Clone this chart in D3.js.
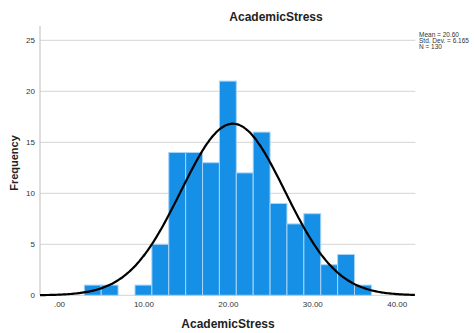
<!DOCTYPE html>
<html><head><meta charset="utf-8">
<script src="https://cdn.jsdelivr.net/npm/d3@7"></script>
<style>body{margin:0;background:#fff;}svg{display:block;font-family:Arial,"Liberation Sans",sans-serif;}</style>
</head><body>
<svg id="c" width="474" height="333"></svg>
<script>
const binStarts = [3,5,7,9,11,13,15,17,19,21,23,25,27,29,31,33,35];
const counts    = [1,1,0,1,5,14,14,13,21,12,16,9,7,8,3,4,1];
const binWidth = 2;
const xTicks = [0,10,20,30,40];
const yTicks = [0,5,10,15,20,25];
const stats = {mean:20.60, sd:6.165, n:130};
const legendLines = ["Mean = 20.60","Std. Dev. = 6.165","N = 130"];

const svg = d3.select("#c");
const x = d3.scaleLinear().domain([-2.25, 42.2]).range([40, 415.3]);
const y = d3.scaleLinear().domain([0, 25]).range([295.3, 40.3]);
const yTop = y(26.4);

// gridlines
svg.append("g").selectAll("line").data(yTicks).join("line")
  .attr("x1", x.range()[0]).attr("x2", x.range()[1])
  .attr("y1", d=>y(d)).attr("y2", d=>y(d))
  .attr("stroke", "#d4d4d4").attr("stroke-width", 1);

// y axis
const yAxis = d3.axisLeft(y).tickValues(yTicks).tickSize(0).tickPadding(5).tickFormat(d3.format("d"));
const yg = svg.append("g").attr("transform", `translate(${x.range()[0]},0)`).call(yAxis);
yg.select(".domain").remove();
yg.selectAll("text").attr("font-size", 8).attr("fill", "#333");
svg.append("line").attr("x1", x.range()[0]).attr("x2", x.range()[0])
  .attr("y1", yTop).attr("y2", y(0)).attr("stroke", "#c8c8c8").attr("stroke-width", 1.2);

// x axis labels
const xAxis = d3.axisBottom(x).tickValues(xTicks).tickSize(0).tickPadding(6)
  .tickFormat(d => d === 0 ? ".00" : d3.format(".2f")(d));
const xg = svg.append("g").attr("transform", `translate(0,${y(0)})`).call(xAxis);
xg.select(".domain").remove();
xg.selectAll("text").attr("font-size", 8).attr("fill", "#333");

// bars
svg.append("g").selectAll("rect").data(binStarts.map((s,i)=>({s, c:counts[i]})).filter(d=>d.c>0))
  .join("rect")
  .attr("x", d=>x(d.s)).attr("width", d=>x(d.s+binWidth)-x(d.s))
  .attr("y", d=>y(d.c)).attr("height", d=>y(0)-y(d.c))
  .attr("fill", "#1690e6").attr("stroke", "#a9d4f5").attr("stroke-width", 1);

// normal curve
const pdf = v => stats.n*binWidth/(stats.sd*Math.sqrt(2*Math.PI))*Math.exp(-0.5*Math.pow((v-stats.mean)/stats.sd,2));
const xs = d3.range(x.domain()[0], x.domain()[1]+0.001, 0.2);
svg.append("path").datum(xs)
  .attr("d", d3.line().x(d=>x(d)).y(d=>y(pdf(d))).curve(d3.curveBasis))
  .attr("fill","none").attr("stroke","#000").attr("stroke-width",2.2);

// title
svg.append("text").attr("x", 276).attr("y", 21).attr("text-anchor","middle")
  .attr("font-size", 12).attr("font-weight","bold").attr("fill","#222").text("AcademicStress");
// axis titles
svg.append("text").attr("x", 228).attr("y", 328).attr("text-anchor","middle")
  .attr("font-size", 12).attr("font-weight","bold").attr("fill","#222").text("AcademicStress");
svg.append("text").attr("transform","translate(18,163) rotate(-90)").attr("text-anchor","middle")
  .attr("font-size", 11).attr("font-weight","bold").attr("fill","#222").text("Frequency");

// legend
svg.append("g").selectAll("text").data(legendLines).join("text")
  .attr("x", 419).attr("y", (d,i)=>37+i*6)
  .attr("font-size", 6.5).attr("fill","#333").text(d=>d);
</script>
</body></html>
